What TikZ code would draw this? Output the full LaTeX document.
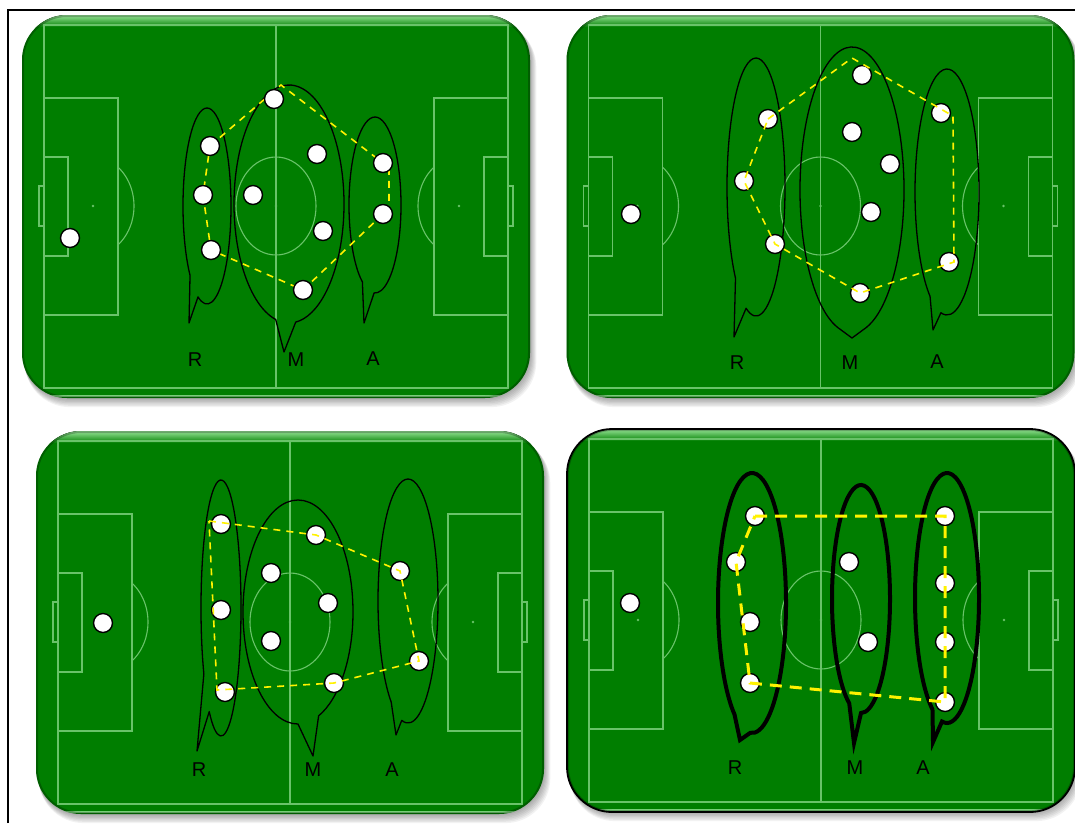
\documentclass[tikz,border=0pt]{standalone}
\usepackage{fontspec}
\setmainfont{Liberation Sans}
\definecolor{pitch}{RGB}{0,126,0}
\definecolor{fieldln}{RGB}{105,195,105}
\definecolor{shine}{RGB}{150,228,150}
\pgfdeclarelayer{front}
\pgfsetlayers{main,front}
\tikzset{
  pitchline/.style={draw=fieldln, line width=1.1pt},
  player/.style={circle, draw=black, fill=white, line width=1.4pt, minimum size=19pt, inner sep=0pt},
  bubble/.style={draw=black, line width=1.3pt, line join=round},
  bigbubble/.style={draw=black, line width=4pt, line join=miter},
  formation/.style={draw=yellow, line width=1.6pt, dash pattern=on 7pt off 6pt},
  bigformation/.style={draw=yellow, line width=3pt, dash pattern=on 12pt off 8pt},
  zone/.style={font=\fontsize{20}{20}\selectfont, text=black, inner sep=0pt},
  pitchedge/.style={draw=none},
  blackedge/.style={draw=black, line width=1.8pt},
}
\newcommand\drawpitch[3]{%
\begin{scope}[shift={(#1,#2)}]
  \foreach \k in {1,...,7}{\fill[black, opacity=0.05, rounded corners=45pt] (22+\k*0.4,15+\k*1.0) rectangle (530+\k*0.9,398+\k*1.3);}
  \fill[pitch, rounded corners=45pt] (22,15) rectangle (530,398);
  \begin{scope}
    \clip[rounded corners=45pt] (22,15) rectangle (530,398);
    \fill[top color=shine, bottom color=pitch] (22,15) rectangle (530,27);
    \draw[pitchline] (44,25) rectangle (508,388);
    \draw[pitchline] (276,25) -- (276,388);
    \draw[pitchline] (276,206) ellipse [x radius=40, y radius=49];
    \fill[fieldln] (276,206) circle [radius=1.3];
    \draw[pitchline] (44,98) rectangle (118,315);
    \draw[pitchline] (44,157) rectangle (68,256);
    \draw[pitchline] (39,186) rectangle (44,226);
    \fill[fieldln] (93,206) circle [radius=1.3];
    \draw[pitchline] (93,206) ++(-52:41 and 49) arc [start angle=-52, end angle=52, x radius=41, y radius=49];
    \draw[pitchline] (434,98) rectangle (508,315);
    \draw[pitchline] (484,157) rectangle (508,256);
    \draw[pitchline] (508,186) rectangle (513,226);
    \fill[fieldln] (459,206) circle [radius=1.3];
    \draw[pitchline] (459,206) ++(128:41 and 49) arc [start angle=128, end angle=232, x radius=41, y radius=49];
    \draw[shine, line width=1.5pt, opacity=0.8] (40,396) -- (512,396);
    \draw[black, opacity=0.25, line width=4pt, rounded corners=45pt] (22,15) rectangle (530,398);
  \end{scope}
  \draw[#3, rounded corners=45pt] (22,15) rectangle (530,398);
\end{scope}}
\newcommand\bubble[9]{\draw[#1] (#2,#3) ++(#6:#4 and #5) arc [start angle=#6, end angle=#7, x radius=#4, y radius=#5] -- (#8,#9) -- cycle;}
\begin{document}
\begin{tikzpicture}[x=1pt, y=-1pt]
\useasboundingbox (0,0) rectangle (1075,823);
\fill[white] (0,0) rectangle (1075,823);
\draw[black, line width=1.6pt] (8,823) -- (8,10) -- (1075,10);

% ---------- panels ----------
\drawpitch{0}{0}{pitchedge}
\drawpitch{544.5}{0}{pitchedge}
\drawpitch{14}{416}{pitchedge}
\drawpitch{545}{414}{blackedge}

% ---------- panel 1 ----------
\bubble{bubble}{207}{206}{24}{98}{135}{472}{189}{323}
\bubble{bubble}{289}{204}{55}{119}{104}{443}{284}{352}
\bubble{bubble}{375}{205}{26}{88}{119}{452}{364}{323}
\coordinate (a1peak) at (281,85);
\coordinate (a1r1) at (389,162);
\coordinate (a1r2) at (389,214);
\begin{pgfonlayer}{front}
\node[player] (a1gk) at (70,238) {};
\node[player] (a1d1) at (210,146) {};
\node[player] (a1d2) at (203,195) {};
\node[player] (a1d3) at (211,250) {};
\node[player] (a1m1) at (274,99) {};
\node[player] (a1m2) at (253,195) {};
\node[player] (a1m3) at (317,154) {};
\node[player] (a1m4) at (323,231) {};
\node[player] (a1m5) at (303,290) {};
\node[player] (a1f1) at (383,163) {};
\node[player] (a1f2) at (383,214) {};
\end{pgfonlayer}
\draw[formation] (a1d1.center) -- (a1peak) -- (a1f1.center) -- (a1r1) -- (a1r2) -- (a1f2.center) -- (a1m5.center) -- (a1d3.center) -- (a1d2.center) -- (a1d1.center);
\node[zone] (a1R) at (195,360) {R};
\node[zone] (a1M) at (296,360) {M};
\node[zone] (a1A) at (373,359) {A};

% ---------- panel 2 ----------
\bubble{bubble}{756}{187}{29}{129}{135}{470}{734}{337}
\bubble{bubble}{852}{190}{52}{143}{106}{434}{852}{338}
\bubble{bubble}{947}{192}{32}{123}{122}{461}{933}{330}
\coordinate (b2peak) at (852,58);
\coordinate (b2r1) at (953,116);
\coordinate (b2r2) at (954,262);
\node[player] (b2gk) at (631,214) {};
\node[player] (b2d1) at (768,119) {};
\node[player] (b2d2) at (744,181) {};
\node[player] (b2d3) at (775,244) {};
\node[player] (b2m1) at (862,75) {};
\node[player] (b2m2) at (852,132) {};
\node[player] (b2m3) at (890,164) {};
\node[player] (b2m4) at (871,212) {};
\node[player] (b2m5) at (860,293) {};
\node[player] (b2f1) at (941,113) {};
\node[player] (b2f2) at (949,262) {};
\draw[formation] (b2d1.center) -- (b2peak) -- (b2r1) -- (b2r2) -- (b2m5.center) -- (b2d3.center) -- (b2d2.center) -- (b2d1.center);
\node[zone] (b2R) at (737,363) {R};
\node[zone] (b2M) at (850,363) {M};
\node[zone] (b2A) at (937,362) {A};

% ---------- panel 3 ----------
\bubble{bubble}{221}{608}{20}{128}{149}{486}{197}{751}
\bubble{bubble}{298}{612}{55}{112}{90}{428}{313}{756}
\bubble{bubble}{408}{601}{30}{122}{124}{462}{396}{735}
\coordinate (c3tl) at (209,521);
\coordinate (c3bl) at (217,690);
\node[player] (c3gk) at (103,623) {};
\node[player] (c3d1) at (221,524) {};
\node[player] (c3d2) at (221,610) {};
\node[player] (c3d3) at (225,692) {};
\node[player] (c3m1) at (316,535) {};
\node[player] (c3m2) at (271,573) {};
\node[player] (c3m3) at (328,603) {};
\node[player] (c3m4) at (271,641) {};
\node[player] (c3m5) at (334,683) {};
\node[player] (c3f1) at (400,571) {};
\node[player] (c3f2) at (419,661) {};
\draw[formation] (c3tl) -- (c3m1.center) -- (c3f1.center) -- (c3f2.center) -- (c3m5.center) -- (c3bl) -- cycle;
\node[zone] (c3R) at (199,770) {R};
\node[zone] (c3M) at (313,770) {M};
\node[zone] (c3A) at (392,770) {A};

% ---------- panel 4 ----------
\bubble{bigbubble}{752}{603}{34}{130}{121}{453}{740}{740}
\bubble{bigbubble}{861}{599}{29}{114}{114}{450}{854}{743}
\bubble{bigbubble}{947}{598}{32}{125}{117}{459}{933}{742}
\node[player] (d4gk) at (630,603) {};
\node[player] (d4d1) at (755,516) {};
\node[player] (d4d2) at (736,562) {};
\node[player] (d4d3) at (750,622) {};
\node[player] (d4d4) at (750,683) {};
\node[player] (d4m1) at (849,562) {};
\node[player] (d4m2) at (868,642) {};
\node[player] (d4f1) at (945,516) {};
\node[player] (d4f2) at (945,583) {};
\node[player] (d4f3) at (945,642) {};
\node[player] (d4f4) at (945,702) {};
\draw[bigformation] (d4d1.center) -- (d4f1.center) -- (d4f4.center) -- (d4d4.center) -- (d4d2.center) -- cycle;
\node[zone] (d4R) at (735,768) {R};
\node[zone] (d4M) at (855,768) {M};
\node[zone] (d4A) at (923,768) {A};
\end{tikzpicture}
\end{document}
